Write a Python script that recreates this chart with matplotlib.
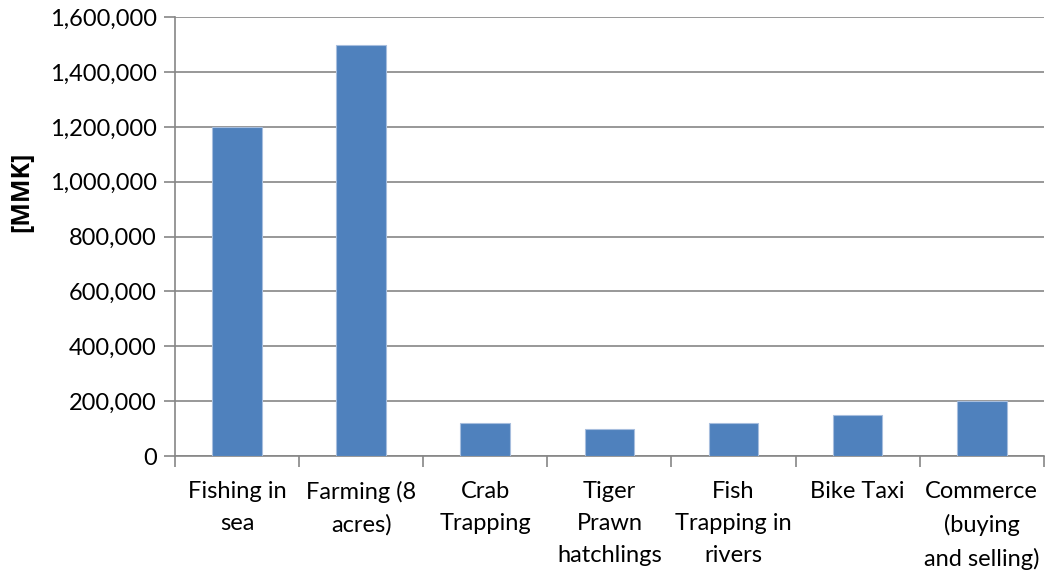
import matplotlib
matplotlib.use("Agg")
import matplotlib.pyplot as plt
from matplotlib.ticker import FuncFormatter, FixedLocator

# Monthly income by livelihood activity
categories = [
    "Fishing in\nsea",
    "Farming (8\nacres)",
    "Crab\nTrapping",
    "Tiger\nPrawn\nhatchlings",
    "Fish\nTrapping in\nrivers",
    "Bike Taxi",
    "Commerce\n(buying\nand selling)",
]
income = [1200000, 1500000, 120000, 100000, 120000, 150000, 200000]
y_ticks = [0, 200000, 400000, 600000, 800000, 1000000, 1200000, 1400000, 1600000]

plt.rcParams["font.family"] = ["Lato", "DejaVu Sans"]

fig = plt.figure(figsize=(10.48, 5.71), dpi=100)
ax = fig.add_axes([0.167, 0.2014, 0.829, 0.7686])

gray = "#868686"
x = list(range(len(categories)))
ax.bar(x, income, width=0.4, color="#4F81BD", edgecolor="#A7BEDE",
       linewidth=0.8, zorder=3)

ax.set_xlim(-0.5, len(categories) - 0.5)
ax.set_ylim(0, 1600000)
ax.set_yticks(y_ticks)
ax.yaxis.set_major_formatter(FuncFormatter(lambda v, p: f"{int(v):,}"))
ax.grid(axis="y", color=gray, linewidth=1.2, zorder=0)

ax.set_xticks(x)
ax.set_xticklabels(categories, fontsize=17, linespacing=1.65, va="top")
ax.tick_params(axis="x", which="major", length=0, pad=18)
ax.xaxis.set_minor_locator(FixedLocator([i - 0.5 for i in range(len(categories) + 1)]))
ax.tick_params(axis="x", which="minor", length=8, width=1.2, color=gray)
ax.tick_params(axis="y", length=8, width=1.2, color=gray, labelsize=17, pad=5)

for side in ("top", "right"):
    ax.spines[side].set_visible(False)
for side in ("left", "bottom"):
    ax.spines[side].set_color(gray)
    ax.spines[side].set_linewidth(1.2)

ax.set_ylabel("[MMK]", fontsize=18, fontweight="bold",
              family=["Open Sans", "DejaVu Sans"], va="center")
ax.yaxis.set_label_coords(-0.176, 0.603)

fig.savefig("out.png", dpi=100)
